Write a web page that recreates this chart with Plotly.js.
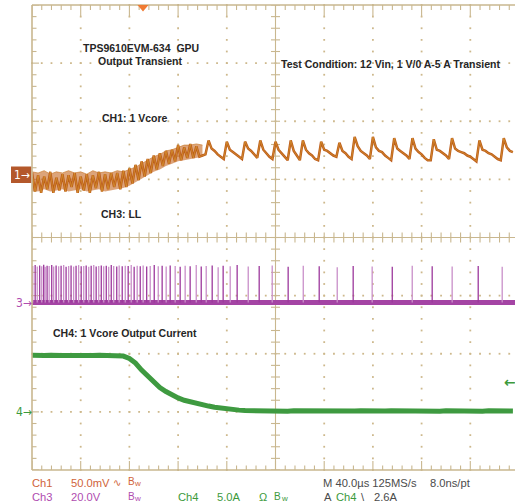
<!DOCTYPE html>
<html><head><meta charset="utf-8">
<script src="https://cdn.plot.ly/plotly-3.0.1.min.js"></script>
<style>html,body{margin:0;padding:0;background:#fff;overflow:hidden}#chart{width:515px;height:504px}</style>
</head><body><div id="chart"></div>
<script>
// ---------------- scope data ----------------
const timePerDivUs = 40;
const ch1StartUs = -200, ch1SampleUs = 2.5;
const ch1Vcore_mV = [
 2,-14,0,-15,-1,-12,3,-15,-2,-13, 1,-14,0,-10,2,-15,-1,-13,1,-15, 0,-11,3,-14,1,-12,2,-10,
 2,-12,4,-10,6,-7,9,-4,12,-1, 14,2,17,5,19,8,21,10,22,12, 26,13,24,15,27,15,25,16,
 17,18,30,23,21,18,16,14,29,22, 20,18,16,14,29,23,21,18,15,30, 22,19,16,14,29,22,19,16,13,30,
 21,17,13,30,22,19,17,14,13,29, 22,21,19,17,16,28,21,19,16,14, 33,25,21,19,17,14,33,24,21,20,
 17,15,13,32,23,21,19,17,14,32, 23,20,18,15,13,13,31,22,21,19, 17,14,32,23,21,20,19,17,16,14,
 12,30,22,21,19,18,16,14,13,32, 24,21,20
];
// peak-detect envelope of the noisy part of Ch1 (5 µs bins from -200 µs)
const ch1EnvStartUs = -200, ch1EnvSampleUs = 5;
const ch1EnvUpper_mV = [3,2,4,1,3,2,4,2,3,1,4,2,3,2,4,3,5,7,10,13,16,18,21,22,24,26,26,27,26];
const ch1EnvLower_mV = [-13,-14,-12,-14,-13,-12,-14,-13,-12,-14,-13,-12,-14,-13,-12,-11,-9,-6,-3,0,3,5,8,10,12,13,14,15,16];
const ch3PulseTimesUs = [
 -199.4,-197.4,-195.7,-193.7,-192.0,-190.4,-189.2,-187.6,-185.9,-183.8,
 -182.2,-180.2,-178.1,-176.1,-174.0,-172.0,-169.9,-167.9,-165.8,-163.8,
 -161.7,-159.6,-157.5,-155.5,-153.4,-151.4,-149.3,-147.3,-145.2,-143.1,
 -141.1,-139.0,-137.0,-134.9,-132.9,-130.4,-128.4,-125.9,-123.4,-121.0,
 -118.5,-116.1,-113.6,-111.1,-108.7,-105.8,-102.9,-99.6,-96.3,-93.1,
 -89.8,-86.5,-82.4,-78.3,-74.2,-70.1,-65.1,-61.0,-56.9,-52.0,
 -47.1,-43.0,-37.2,-31.5,-22.4,-13.4,-2.7,10.4,22.8,35.9,
 50.7,63.8,79.4,95.9,112.3,128.7,145.1,166.5,186.2
];
const ch3PulseHeightsV = [
 12.6,12.9,12.4,12.8,12.5,13.0,12.3,12.7,12.6,12.9, 12.4,12.8,12.5,12.7,12.9,12.3,12.6,12.8,12.4,12.7,
 12.9,12.5,12.6,12.8,12.3,12.7,12.9,12.4,12.6,12.8, 12.5,12.7,12.3,12.9,12.6,12.4,12.8,12.5,12.7,12.6,
 12.9,12.3,12.7,12.5,12.8,12.4,12.6,12.9,12.5,12.7, 12.4,12.8,12.6,12.3,12.7,12.5,12.9,12.4,12.6,12.8,
 12.2,12.7,12.5,12.9,12.4,12.6,12.8,12.3,12.7,12.5, 12.2,12.6,12.4,12.3,12.7,12.5,12.4,12.6,12.3
];
const ch3LowV = 0;
const ch4StartUs = -200, ch4SampleUs = 5;
const ch4Current_A = [
 4.87,4.83,4.85,4.88,4.82,4.85,4.86,4.84,4.87,4.83,4.85,4.88,4.84,4.85,4.83,
 4.8,4.6,4.2,3.6,3.1,2.6,2.1,1.75,1.45,1.2,1.0,0.85,0.72,0.6,0.5,0.4,0.32,0.25,0.2,0.15,0.12,0.1,
 0.1,0.08,0.09,0.07,0.1,0.06,0.09,0.08,0.07,0.1, 0.08,0.06,0.09,0.08,0.1,0.07,0.08,0.09,0.06,0.08,
 0.1,0.07,0.09,0.08,0.06,0.1,0.08,0.07,0.09,0.08, 0.06,0.1,0.08,0.09,0.07,0.08,0.1,0.06,0.09,0.08,
 0.07,0.09,0.08
];
const ch1ScaleMv = 50, ch3ScaleV = 20, ch4ScaleA = 5;
const triggerLevelA = 2.6;
const sampleRate = '125MS/s', recordRes = '8.0ns/pt';
const labels = {
  title1: 'TPS9610EVM-634\u00a0\u00a0GPU', title2: 'Output Transient',
  cond: 'Test Condition: 12 Vin, 1 V/0 A-5 A Transient',
  ch1: 'CH1: 1 Vcore', ch3: 'CH3: LL', ch4: 'CH4: 1 Vcore Output Current'
};

// ---------------- geometry ----------------
const PL = 32, PW = 483, PT = 5, PH = 465;
const DIVPX = 48.7, XL = -200, XR = -200 + PW / DIVPX * timePerDivUs;
const uPX = timePerDivUs / DIVPX, vPX = 8 / PH;
const ch1Pos = 1.07, ch3Pos = -1.12, ch4Pos = -3.0;

const grid = '#c9b78f', dotC = '#cdb88c';
const gx = [], gy = [], dx = [], dy = [];
function seg(x1, y1, x2, y2) { gx.push(x1, x2, null); gy.push(y1, y2, null); }
seg(0, -4, 0, 4); seg(XL, 0, XR, 0);
for (let k = 0; k <= 50; k++) {
  const t = XL + k * timePerDivUs / 5; if (t > XR) break;
  const major = k % 5 === 0;
  seg(t, 4, t, 4 - (major ? 11 : 5) * vPX);
  seg(t, -4, t, -4 + (major ? 9 : 4.5) * vPX);
  seg(t, -5 * vPX, t, 5 * vPX);
}
for (let j = 0; j <= 40; j++) {
  const y = -4 + 0.2 * j, major = j % 5 === 0;
  seg(XL, y, XL + (major ? 7 : 4.5) * uPX, y);
  seg(-4.5 * uPX, y, 4.5 * uPX, y);
}
for (let k = 1; k <= 9; k++) { if (k === 5) continue;
  const t = XL + k * timePerDivUs;
  for (let j = 0; j <= 40; j++) { dx.push(t); dy.push(-4 + 0.2 * j); } }
for (let k = 1; k <= 7; k++) { if (k === 4) continue;
  for (let j = 0; j <= 50; j++) { const t = XL + j * timePerDivUs / 5; if (t > XR) break; dx.push(t); dy.push(-4 + k); } }

// ---------------- traces ----------------
const traces = [];
traces.push({x: dx, y: dy, mode: 'markers', marker: {symbol: 'square', size: 1.8, color: dotC}, hoverinfo: 'skip', cliponaxis: false});
traces.push({x: gx, y: gy, mode: 'lines', line: {color: grid, width: 1.1}, hoverinfo: 'skip', cliponaxis: false});

// Ch3
traces.push({x: [XL, XR], y: [ch3Pos + ch3LowV / ch3ScaleV, ch3Pos + ch3LowV / ch3ScaleV], mode: 'lines', line: {color: '#a444a4', width: 5}, hoverinfo: 'skip'});
const p3 = [{x: [], y: []}, {x: [], y: []}];
ch3PulseTimesUs.forEach((t, i) => {
  const p = p3[i % 2];
  p.x.push(t, t, null); p.y.push(ch3Pos, ch3Pos + ch3PulseHeightsV[i] / ch3ScaleV, null);
});
traces.push({x: p3[0].x, y: p3[0].y, mode: 'lines', line: {color: '#c98fc9', width: 1.3}, hoverinfo: 'skip'});
traces.push({x: p3[1].x, y: p3[1].y, mode: 'lines', line: {color: '#9c389c', width: 1.3}, hoverinfo: 'skip'});

// Ch4
traces.push({x: ch4Current_A.map((_, i) => ch4StartUs + i * ch4SampleUs), y: ch4Current_A.map(v => ch4Pos + v / ch4ScaleA),
  mode: 'lines', line: {color: '#3e9a40', width: 5}, hoverinfo: 'skip'});

// Ch1 envelope (noise band)
const te = ch1EnvUpper_mV.map((_, i) => ch1EnvStartUs + i * ch1EnvSampleUs);
traces.push({x: te, y: ch1EnvLower_mV.map(v => ch1Pos + v / ch1ScaleMv), mode: 'lines', line: {width: 0, color: 'rgba(0,0,0,0)'}, hoverinfo: 'skip'});
traces.push({x: te, y: ch1EnvUpper_mV.map(v => ch1Pos + v / ch1ScaleMv), mode: 'lines', line: {width: 0.8, color: 'rgba(200,120,40,0.8)'},
  fill: 'tonexty', fillcolor: 'rgba(196,104,34,0.6)', hoverinfo: 'skip'});
// Ch1 trace
const t1 = ch1Vcore_mV.map((_, i) => ch1StartUs + i * ch1SampleUs);
const y1 = ch1Vcore_mV.map(v => ch1Pos + v / ch1ScaleMv);
traces.push({x: t1, y: y1, mode: 'lines', line: {color: '#bd5c1c', width: 2.5}, hoverinfo: 'skip'});
traces.push({x: t1, y: y1, mode: 'lines', line: {color: '#e8c23c', width: 0.7}, opacity: 0.6, hoverinfo: 'skip'});

// ---------------- annotations ----------------
const px = x => (x - PL) / PW, py = y => (PT + PH - y) / PH;
const BOLD = 'Liberation Sans, Arial, sans-serif';
const NARROW = 'Liberation Sans Narrow, Arial Narrow, Liberation Sans, sans-serif';
function ann(text, x, y, color, size, family, anchor) {
  return {xref: 'paper', yref: 'paper', x: px(x), y: py(y), text, showarrow: false,
    xanchor: anchor || 'left', yanchor: 'middle', borderpad: 0,
    font: {family, size, color}};
}
const dark = '#262626', gray = '#4b4b4b', cO = '#d0643a', cP = '#b04db0', cG = '#3c9a3c';
function bw(x, y, c) { return [ann('B', x, y - 1, c, 10, NARROW), ann('w', x + 6.5, y + 1, c, 8, NARROW)]; }
const annotations = [
  ann('<b>' + labels.title1 + '</b>', 140.5, 47.5, dark, 10.5, BOLD, 'center'),
  ann('<b>' + labels.title2 + '</b>', 140.5, 61, dark, 10.5, BOLD, 'center'),
  ann('<b>' + labels.cond + '</b>', 280, 63.5, dark, 10.5, BOLD),
  ann('<b>' + labels.ch1 + '</b>', 100.5, 118, dark, 10.5, BOLD),
  ann('<b>' + labels.ch3 + '</b>', 100, 213.5, dark, 10.5, BOLD),
  ann('<b>' + labels.ch4 + '</b>', 52, 332.5, dark, 10.5, BOLD),
  // status lines
  ann('Ch1', 30.5, 482.5, cO, 11.2, NARROW),
  ann(ch1ScaleMv.toFixed(1) + 'mV', 69.5, 482.5, cO, 11.2, NARROW),
  ann('\u223f', 112, 482.5, cO, 10, 'DejaVu Sans'),
  ...bw(126.5, 482.5, cO),
  ann('M 40.0\u00b5s ' + sampleRate, 322, 482.5, gray, 11.2, NARROW),
  ann(recordRes, 429, 482.5, gray, 11.2, NARROW),
  ann('Ch3', 30.5, 497, cP, 11.2, NARROW),
  ann(ch3ScaleV.toFixed(1) + 'V', 69.5, 497, cP, 11.2, NARROW),
  ...bw(126.5, 497, cP),
  ann('Ch4', 176.5, 497, cG, 11.2, NARROW),
  ann(ch4ScaleA.toFixed(1) + 'A', 215.5, 497, cG, 11.2, NARROW),
  ann('\u03a9', 257.5, 497, cG, 11, NARROW),
  ...bw(273, 497, cG),
  ann('A', 322.5, 497, gray, 11.2, NARROW),
  ann('Ch4', 334.5, 497, cG, 11.2, NARROW),
  ann('\\', 359.5, 497, gray, 11.2, NARROW),
  ann(triggerLevelA.toFixed(1) + 'A', 372.5, 497, gray, 11.2, NARROW),
  // channel markers
  ann('1\u2192', 21.5, 175, '#ffffff', 12, 'DejaVu Sans Condensed, DejaVu Sans', 'center'),
  ann('3\u2192', 24, 302.5, cP, 12, 'DejaVu Sans Condensed, DejaVu Sans', 'center'),
  ann('4\u2192', 24, 412, cG, 12, 'DejaVu Sans Condensed, DejaVu Sans', 'center'),
  ann('<b>\u2190</b>', 510, 382, cG, 14, 'DejaVu Sans', 'center')
];

const shapes = [
  {type: 'rect', xref: 'paper', yref: 'paper', x0: px(11), x1: px(31.5), y0: py(183), y1: py(166.5), fillcolor: '#b4582b', line: {width: 0}, layer: 'below'},
  {type: 'line', xref: 'paper', yref: 'paper', x0: px(32), x1: px(32), y0: py(5), y1: py(470), line: {color: grid, width: 1.6}},
  {type: 'line', xref: 'paper', yref: 'paper', x0: px(32), x1: 1, y0: 1, y1: 1, line: {color: grid, width: 1.6}},
  {type: 'line', xref: 'paper', yref: 'paper', x0: px(32), x1: 1, y0: 0, y1: 0, line: {color: grid, width: 1.6}},
  {type: 'path', xref: 'paper', yref: 'paper', path: `M${px(137.5)},${py(5)} L${px(148.5)},${py(5)} L${px(143)},${py(11.5)} Z`, fillcolor: '#f07a32', line: {width: 0}}
];

const layout = {
  width: 515, height: 504, margin: {l: PL, r: 0, t: PT, b: 504 - PT - PH},
  paper_bgcolor: '#ffffff', plot_bgcolor: '#ffffff', showlegend: false,
  xaxis: {range: [XL, XR], visible: false, fixedrange: true},
  yaxis: {range: [-4, 4], visible: false, fixedrange: true},
  annotations, shapes
};
Plotly.newPlot('chart', traces, layout, {displayModeBar: false, staticPlot: true});
</script></body></html>
